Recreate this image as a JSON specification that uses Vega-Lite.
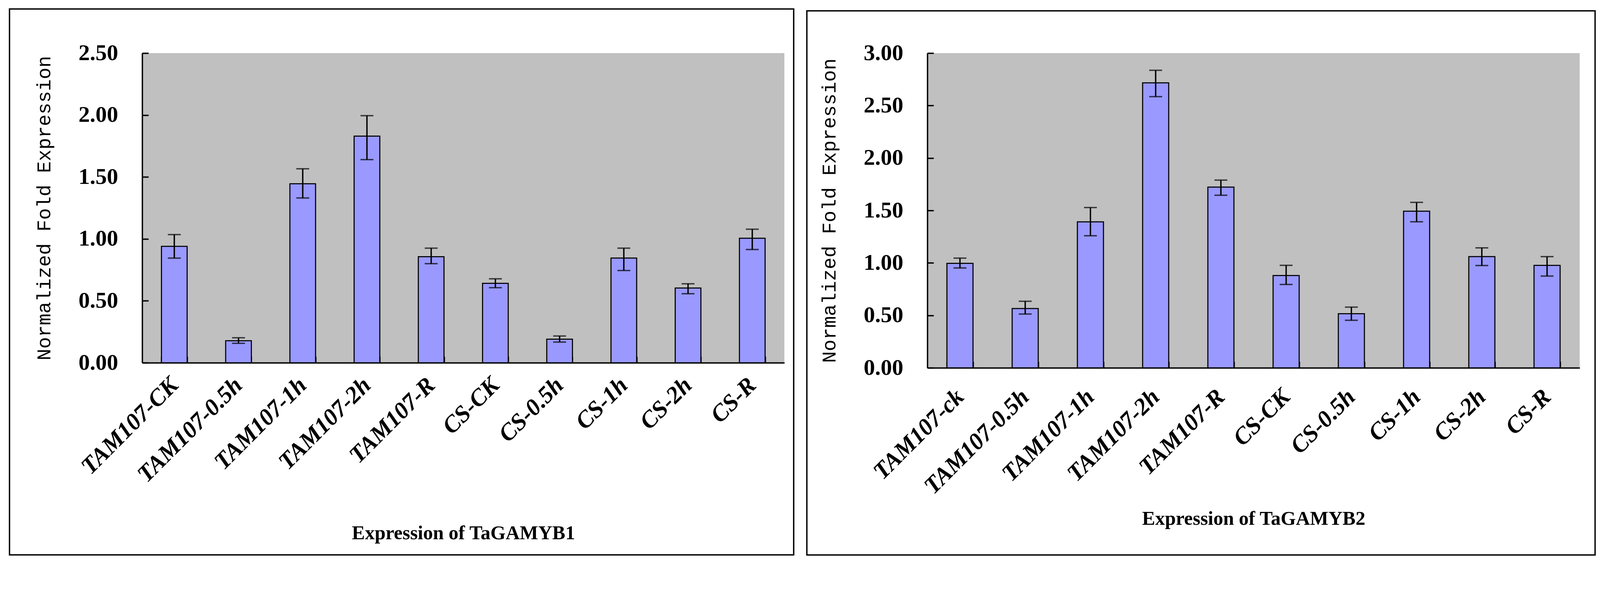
{
  "$schema": "https://vega.github.io/schema/vega-lite/v6.json",
  "background": "white",
  "padding": {"left": 22, "top": 21, "right": 0, "bottom": 0},
  "autosize": {"type": "pad"},
  "datasets": {
    "myb1": [
      {"sample": "TAM107-CK", "value": 0.94, "lo": 0.845, "hi": 1.035},
      {"sample": "TAM107-0.5h", "value": 0.178, "lo": 0.157, "hi": 0.202},
      {"sample": "TAM107-1h", "value": 1.445, "lo": 1.33, "hi": 1.566},
      {"sample": "TAM107-2h", "value": 1.83, "lo": 1.64, "hi": 1.995},
      {"sample": "TAM107-R", "value": 0.856, "lo": 0.8, "hi": 0.925},
      {"sample": "CS-CK", "value": 0.641, "lo": 0.606, "hi": 0.678},
      {"sample": "CS-0.5h", "value": 0.19, "lo": 0.167, "hi": 0.216},
      {"sample": "CS-1h", "value": 0.845, "lo": 0.745, "hi": 0.925},
      {"sample": "CS-2h", "value": 0.603, "lo": 0.557, "hi": 0.638},
      {"sample": "CS-R", "value": 1.005, "lo": 0.914, "hi": 1.078}
    ],
    "myb2": [
      {"sample": "TAM107-ck", "value": 0.996, "lo": 0.952, "hi": 1.046},
      {"sample": "TAM107-0.5h", "value": 0.565, "lo": 0.513, "hi": 0.635},
      {"sample": "TAM107-1h", "value": 1.392, "lo": 1.259, "hi": 1.528},
      {"sample": "TAM107-2h", "value": 2.717, "lo": 2.585, "hi": 2.836},
      {"sample": "TAM107-R", "value": 1.723, "lo": 1.645, "hi": 1.789},
      {"sample": "CS-CK", "value": 0.88, "lo": 0.795, "hi": 0.977},
      {"sample": "CS-0.5h", "value": 0.516, "lo": 0.453, "hi": 0.579},
      {"sample": "CS-1h", "value": 1.493, "lo": 1.392, "hi": 1.577},
      {"sample": "CS-2h", "value": 1.06, "lo": 0.975, "hi": 1.144},
      {"sample": "CS-R", "value": 0.977, "lo": 0.875, "hi": 1.06}
    ],
    "box": [{}]
  },
  "spacing": 29,
  "hconcat": [
    {
      "width": 1644,
      "height": 793,
      "layer": [
        {
          "data": {"name": "box"},
          "mark": {"type": "rect", "fill": null, "stroke": "black", "strokeWidth": 3.5},
          "encoding": {
            "x": {"datum": -0.2066, "type": "quantitative", "scale": {"domain": [0, 1], "nice": false, "zero": false}, "axis": null},
            "x2": {"datum": 1.0145},
            "y": {"datum": 1.1424, "type": "quantitative", "scale": {"domain": [0, 1], "nice": false, "zero": false}, "axis": null},
            "y2": {"datum": -0.6204}
          }
        },
        {
          "data": {"name": "myb1"},
          "encoding": {
            "x": {
              "field": "sample", "type": "nominal", "sort": null,
              "scale": {"paddingInner": 0.6, "paddingOuter": 0.3},
              "axis": {"title": "Expression of TaGAMYB1", "labelPadding": 64, "titlePadding": 211}
            }
          },
          "layer": [
            {
              "mark": {"type": "bar", "fill": "#9999FF", "stroke": "black", "strokeWidth": 2.75},
              "encoding": {
                "y": {
                  "field": "value", "type": "quantitative",
                  "scale": {"domain": [0, 2.5], "nice": false},
                  "axis": {"title": "Normalized Fold Expression", "values": [0, 0.5, 1, 1.5, 2, 2.5], "format": ".2f"}
                }
              }
            },
            {
              "mark": {"type": "rule", "color": "black", "strokeWidth": 3.5},
              "encoding": {"y": {"field": "lo", "type": "quantitative"}, "y2": {"field": "hi"}}
            },
            {
              "mark": {"type": "tick", "color": "black", "thickness": 3.5, "size": 33},
              "encoding": {"y": {"field": "hi", "type": "quantitative"}}
            },
            {
              "mark": {"type": "tick", "color": "black", "thickness": 3.5, "size": 33},
              "encoding": {"y": {"field": "lo", "type": "quantitative"}}
            }
          ]
        }
      ],
      "resolve": {"scale": {"x": "independent", "y": "independent"}}
    },
    {
      "width": 1670,
      "height": 806,
      "layer": [
        {
          "data": {"name": "box"},
          "mark": {"type": "rect", "fill": null, "stroke": "black", "strokeWidth": 3.5},
          "encoding": {
            "x": {"datum": -0.1847, "type": "quantitative", "scale": {"domain": [0, 1], "nice": false, "zero": false}, "axis": null},
            "x2": {"datum": 1.0236},
            "y": {"datum": 1.1344, "type": "quantitative", "scale": {"domain": [0, 1], "nice": false, "zero": false}, "axis": null},
            "y2": {"datum": -0.5945}
          }
        },
        {
          "data": {"name": "myb2"},
          "encoding": {
            "x": {
              "field": "sample", "type": "nominal", "sort": null,
              "scale": {"paddingInner": 0.6, "paddingOuter": 0.3},
              "axis": {"title": "Expression of TaGAMYB2", "labelPadding": 81, "titlePadding": 161}
            }
          },
          "layer": [
            {
              "mark": {"type": "bar", "fill": "#9999FF", "stroke": "black", "strokeWidth": 2.75},
              "encoding": {
                "y": {
                  "field": "value", "type": "quantitative",
                  "scale": {"domain": [0, 3], "nice": false},
                  "axis": {"title": "Normalized Fold Expression", "values": [0, 0.5, 1, 1.5, 2, 2.5, 3], "format": ".2f"}
                }
              }
            },
            {
              "mark": {"type": "rule", "color": "black", "strokeWidth": 3.5},
              "encoding": {"y": {"field": "lo", "type": "quantitative"}, "y2": {"field": "hi"}}
            },
            {
              "mark": {"type": "tick", "color": "black", "thickness": 3.5, "size": 33},
              "encoding": {"y": {"field": "hi", "type": "quantitative"}}
            },
            {
              "mark": {"type": "tick", "color": "black", "thickness": 3.5, "size": 33},
              "encoding": {"y": {"field": "lo", "type": "quantitative"}}
            }
          ]
        }
      ],
      "resolve": {"scale": {"x": "independent", "y": "independent"}}
    }
  ],
  "config": {
    "view": {"fill": "#C0C0C0", "stroke": null},
    "axis": {
      "domainColor": "black",
      "domainWidth": 3.5,
      "tickColor": "black",
      "tickWidth": 3.5,
      "tickSize": -16,
      "grid": false,
      "labelColor": "black",
      "titleColor": "black"
    },
    "axisX": {
      "tickBand": "extent",
      "labelAngle": -45,
      "labelAlign": "right",
      "labelBaseline": "middle",
      "labelFont": "Liberation Serif",
      "labelFontStyle": "italic",
      "labelFontWeight": "bold",
      "labelFontSize": 61,
      "labelLimit": 0,
      "labelOverlap": false,
      "titleFont": "Liberation Serif",
      "titleFontWeight": "bold",
      "titleFontSize": 50
    },
    "axisY": {
      "labelFont": "Liberation Serif",
      "labelFontWeight": "bold",
      "labelFontSize": 58,
      "labelPadding": 78,
      "titleFont": "Liberation Mono",
      "titleFontWeight": "normal",
      "titleFontSize": 50,
      "titlePadding": 62
    }
  }
}
